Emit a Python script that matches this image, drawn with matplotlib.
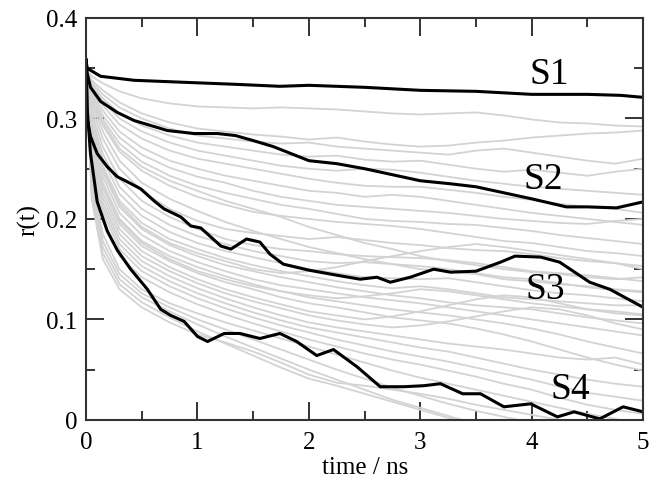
import numpy as np
import matplotlib
matplotlib.use('Agg')
import matplotlib.pyplot as plt
from matplotlib.ticker import MultipleLocator

plt.rcParams['font.family'] = ['Liberation Serif', 'DejaVu Serif']

# DATA : highlighted samples (black)
t_s1 = [0, 0.01, 0.13, 0.43, 0.88, 1.34, 1.74, 2.0, 2.5, 3.0, 3.5, 4.0, 4.5, 4.8, 5.0]
s1 = [0.358, 0.350, 0.342, 0.338, 0.336, 0.334, 0.332, 0.333, 0.331, 0.328, 0.327,
      0.324, 0.324, 0.323, 0.321]

t_s2 = [0, 0.01, 0.04, 0.13, 0.28, 0.43, 0.58, 0.73, 0.97, 1.18, 1.34, 1.5, 1.68, 2.0,
        2.25, 2.5, 3.0, 3.27, 3.5, 4.0, 4.31, 4.5, 4.76, 5.0]
s2 = [0.358, 0.345, 0.331, 0.317, 0.306, 0.298, 0.293, 0.288, 0.285, 0.285, 0.283,
      0.278, 0.272, 0.258, 0.255, 0.250, 0.238, 0.235, 0.232, 0.220, 0.212, 0.212,
      0.211, 0.217]

t_s3 = [0, 0.01, 0.04, 0.10, 0.19, 0.28, 0.37, 0.49, 0.61, 0.70, 0.85, 0.94, 1.03, 1.12,
        1.21, 1.30, 1.44, 1.56, 1.65, 1.77, 2.0, 2.25, 2.46, 2.61, 2.73, 2.91, 3.12,
        3.27, 3.5, 3.72, 3.85, 4.08, 4.25, 4.52, 4.7, 5.0]
s3 = [0.358, 0.300, 0.282, 0.265, 0.252, 0.242, 0.237, 0.230, 0.218, 0.210, 0.202,
      0.193, 0.191, 0.182, 0.173, 0.170, 0.180, 0.177, 0.165, 0.155, 0.149, 0.144,
      0.140, 0.142, 0.137, 0.142, 0.150, 0.147, 0.148, 0.157, 0.163, 0.162, 0.157,
      0.137, 0.130, 0.112]

t_s4 = [0, 0.01, 0.04, 0.1, 0.19, 0.28, 0.40, 0.55, 0.67, 0.76, 0.88, 1.0, 1.09, 1.24,
        1.38, 1.56, 1.74, 1.89, 2.07, 2.22, 2.43, 2.64, 2.85, 3.03, 3.18, 3.38, 3.54,
        3.75, 3.99, 4.23, 4.38, 4.61, 4.82, 5.0]
s4 = [0.358, 0.310, 0.265, 0.217, 0.188, 0.169, 0.150, 0.130, 0.110, 0.104, 0.098,
      0.083, 0.078, 0.086, 0.086, 0.081, 0.086, 0.078, 0.064, 0.070, 0.053, 0.033,
      0.033, 0.034, 0.036, 0.026, 0.026, 0.013, 0.016, 0.003, 0.008, 0.001, 0.013, 0.008]

# DATA : other samples (grey)
t_g = [0, 0.05, 0.15, 0.3, 0.5, 0.75, 1.0, 1.25, 1.5, 1.75, 2.0, 2.25, 2.5, 2.75, 3.0,
       3.25, 3.5, 3.75, 4.0, 4.25, 4.5, 4.75, 5.0]
grey = [
    [0.35, 0.342, 0.335, 0.327, 0.320, 0.315, 0.312, 0.311, 0.310, 0.311, 0.310, 0.309, 0.307, 0.305, 0.304, 0.305, 0.306, 0.303, 0.299, 0.296, 0.295, 0.293, 0.292],
    [0.35, 0.338, 0.328, 0.316, 0.305, 0.296, 0.290, 0.287, 0.284, 0.282, 0.279, 0.281, 0.277, 0.274, 0.272, 0.273, 0.276, 0.278, 0.281, 0.283, 0.285, 0.286, 0.288],
    [0.35, 0.336, 0.324, 0.311, 0.300, 0.290, 0.283, 0.280, 0.277, 0.275, 0.276, 0.272, 0.270, 0.268, 0.266, 0.264, 0.268, 0.270, 0.266, 0.262, 0.258, 0.255, 0.260],
    [0.35, 0.334, 0.320, 0.305, 0.293, 0.283, 0.276, 0.272, 0.268, 0.264, 0.262, 0.263, 0.259, 0.257, 0.258, 0.254, 0.250, 0.247, 0.249, 0.246, 0.243, 0.247, 0.250],
    [0.35, 0.332, 0.317, 0.300, 0.287, 0.276, 0.268, 0.263, 0.258, 0.253, 0.250, 0.248, 0.250, 0.249, 0.246, 0.242, 0.238, 0.235, 0.232, 0.230, 0.228, 0.226, 0.224],
    [0.35, 0.330, 0.313, 0.294, 0.280, 0.268, 0.260, 0.255, 0.250, 0.245, 0.240, 0.236, 0.233, 0.232, 0.232, 0.229, 0.226, 0.222, 0.219, 0.215, 0.212, 0.210, 0.206],
    [0.35, 0.327, 0.308, 0.287, 0.271, 0.258, 0.250, 0.243, 0.238, 0.233, 0.228, 0.226, 0.222, 0.224, 0.222, 0.218, 0.214, 0.210, 0.206, 0.203, 0.200, 0.197, 0.194],
    [0.35, 0.325, 0.303, 0.281, 0.264, 0.251, 0.242, 0.236, 0.228, 0.222, 0.218, 0.214, 0.212, 0.210, 0.208, 0.206, 0.203, 0.200, 0.198, 0.196, 0.195, 0.198, 0.200],
    [0.35, 0.322, 0.299, 0.275, 0.257, 0.243, 0.233, 0.226, 0.220, 0.214, 0.210, 0.205, 0.200, 0.198, 0.197, 0.195, 0.194, 0.191, 0.188, 0.184, 0.181, 0.178, 0.175],
    [0.35, 0.318, 0.293, 0.267, 0.248, 0.233, 0.222, 0.214, 0.207, 0.203, 0.200, 0.197, 0.195, 0.193, 0.190, 0.186, 0.182, 0.178, 0.176, 0.172, 0.168, 0.166, 0.163],
    [0.35, 0.320, 0.296, 0.270, 0.252, 0.238, 0.228, 0.218, 0.210, 0.202, 0.192, 0.184, 0.176, 0.170, 0.163, 0.158, 0.154, 0.150, 0.147, 0.145, 0.142, 0.140, 0.142],
    [0.35, 0.315, 0.287, 0.258, 0.236, 0.220, 0.208, 0.197, 0.188, 0.180, 0.172, 0.166, 0.160, 0.155, 0.150, 0.148, 0.145, 0.140, 0.138, 0.135, 0.133, 0.130, 0.128],
    [0.35, 0.310, 0.280, 0.250, 0.228, 0.210, 0.198, 0.190, 0.186, 0.183, 0.180, 0.182, 0.179, 0.176, 0.174, 0.171, 0.169, 0.168, 0.165, 0.161, 0.158, 0.156, 0.153],
    [0.35, 0.305, 0.272, 0.240, 0.218, 0.202, 0.190, 0.180, 0.174, 0.170, 0.168, 0.165, 0.163, 0.162, 0.161, 0.159, 0.156, 0.152, 0.148, 0.146, 0.144, 0.141, 0.138],
    [0.35, 0.300, 0.265, 0.232, 0.210, 0.194, 0.183, 0.175, 0.168, 0.163, 0.158, 0.156, 0.157, 0.155, 0.153, 0.150, 0.146, 0.142, 0.140, 0.136, 0.132, 0.129, 0.127],
    [0.35, 0.296, 0.259, 0.225, 0.203, 0.187, 0.176, 0.168, 0.162, 0.156, 0.150, 0.146, 0.142, 0.141, 0.140, 0.141, 0.137, 0.133, 0.129, 0.126, 0.124, 0.121, 0.118],
    [0.35, 0.292, 0.253, 0.218, 0.196, 0.180, 0.170, 0.161, 0.154, 0.148, 0.143, 0.138, 0.134, 0.131, 0.133, 0.130, 0.126, 0.122, 0.120, 0.118, 0.116, 0.114, 0.114],
    [0.35, 0.290, 0.250, 0.215, 0.192, 0.176, 0.166, 0.158, 0.150, 0.146, 0.148, 0.152, 0.158, 0.163, 0.168, 0.172, 0.175, 0.172, 0.168, 0.164, 0.160, 0.156, 0.150],
    [0.35, 0.288, 0.247, 0.212, 0.190, 0.174, 0.163, 0.154, 0.148, 0.142, 0.137, 0.132, 0.128, 0.124, 0.121, 0.117, 0.114, 0.112, 0.110, 0.106, 0.102, 0.099, 0.096],
    [0.35, 0.284, 0.242, 0.206, 0.184, 0.168, 0.157, 0.148, 0.140, 0.134, 0.130, 0.126, 0.122, 0.119, 0.116, 0.112, 0.108, 0.104, 0.100, 0.096, 0.092, 0.088, 0.084],
    [0.35, 0.280, 0.236, 0.200, 0.178, 0.163, 0.152, 0.143, 0.135, 0.128, 0.122, 0.118, 0.114, 0.110, 0.107, 0.104, 0.100, 0.096, 0.091, 0.085, 0.078, 0.072, 0.066],
    [0.35, 0.278, 0.234, 0.198, 0.176, 0.160, 0.148, 0.140, 0.133, 0.128, 0.124, 0.121, 0.123, 0.126, 0.130, 0.128, 0.124, 0.120, 0.116, 0.113, 0.110, 0.108, 0.105],
    [0.35, 0.276, 0.231, 0.195, 0.173, 0.158, 0.146, 0.137, 0.130, 0.122, 0.116, 0.112, 0.107, 0.102, 0.099, 0.096, 0.091, 0.085, 0.078, 0.070, 0.062, 0.055, 0.049],
    [0.35, 0.272, 0.226, 0.190, 0.168, 0.152, 0.140, 0.130, 0.122, 0.115, 0.108, 0.104, 0.100, 0.103, 0.108, 0.114, 0.120, 0.124, 0.122, 0.116, 0.110, 0.106, 0.104],
    [0.35, 0.268, 0.221, 0.185, 0.163, 0.148, 0.136, 0.126, 0.118, 0.111, 0.104, 0.099, 0.095, 0.092, 0.094, 0.098, 0.103, 0.108, 0.112, 0.110, 0.104, 0.096, 0.090],
    [0.35, 0.264, 0.216, 0.180, 0.158, 0.143, 0.131, 0.121, 0.112, 0.104, 0.097, 0.092, 0.088, 0.084, 0.080, 0.076, 0.073, 0.070, 0.066, 0.062, 0.060, 0.062, 0.055],
    [0.35, 0.260, 0.212, 0.175, 0.153, 0.138, 0.126, 0.116, 0.107, 0.099, 0.092, 0.087, 0.082, 0.077, 0.072, 0.068, 0.062, 0.056, 0.050, 0.045, 0.040, 0.036, 0.033],
    [0.35, 0.256, 0.207, 0.170, 0.148, 0.133, 0.121, 0.111, 0.102, 0.094, 0.087, 0.080, 0.074, 0.068, 0.063, 0.058, 0.052, 0.046, 0.040, 0.033, 0.027, 0.023, 0.019],
    [0.35, 0.250, 0.200, 0.163, 0.142, 0.127, 0.115, 0.105, 0.096, 0.088, 0.080, 0.073, 0.066, 0.060, 0.055, 0.049, 0.043, 0.036, 0.030, 0.022, 0.015, 0.010, 0.006],
    [0.35, 0.240, 0.185, 0.150, 0.130, 0.116, 0.106, 0.097, 0.089, 0.081, 0.073, 0.065, 0.057, 0.049, 0.042, 0.036, 0.030, 0.024, 0.018, 0.012, 0.006, 0.001, -0.005],
    [0.35, 0.235, 0.178, 0.145, 0.126, 0.112, 0.100, 0.090, 0.080, 0.070, 0.060, 0.050, 0.041, 0.032, 0.024, 0.016, 0.009, 0.003, -0.003, -0.01, -0.01, -0.01, -0.01],
    [0.35, 0.230, 0.172, 0.140, 0.122, 0.108, 0.095, 0.083, 0.072, 0.061, 0.050, 0.040, 0.030, 0.020, 0.012, 0.004, -0.004, -0.01, -0.01, -0.01, -0.01, -0.01, -0.01],
    [0.35, 0.225, 0.166, 0.135, 0.117, 0.102, 0.088, 0.076, 0.064, 0.052, 0.041, 0.034, 0.026, 0.018, 0.010, 0.002, -0.005, -0.01, -0.01, -0.01, -0.01, -0.01, -0.01],
    [0.35, 0.220, 0.160, 0.130, 0.112, 0.097, 0.085, 0.077, 0.068, 0.057, 0.045, 0.037, 0.034, 0.030, 0.026, 0.021, 0.015, 0.010, 0.005, 0.000, -0.005, -0.01, -0.01],
]

labels = ['S1', 'S2', 'S3', 'S4']
lab_x = [4.16, 4.10, 4.12, 4.35]
lab_y = [0.345, 0.240, 0.131, 0.031]

########## PLOT #############
fig = plt.figure(figsize=(6.57, 4.81), dpi=100)
ax = fig.add_axes([0.131, 0.125, 0.848, 0.8355])

for g in grey:
    ax.plot(t_g, g, color='#d3d3d3', lw=1.3)

for t, s in zip((t_s1, t_s2, t_s3, t_s4), (s1, s2, s3, s4)):
    ax.plot(t, s, color='black', lw=2.2)

for l, x, y in zip(labels, lab_x, lab_y):
    ax.text(x, y, l, fontsize=27, ha='center', va='center')

ax.set_xlim(0, 5)
ax.set_ylim(0, 0.4)
ax.xaxis.set_minor_locator(MultipleLocator(0.5))
ax.yaxis.set_minor_locator(MultipleLocator(0.05))
ax.set_xticks(range(6))
ax.set_xticklabels([str(i) for i in range(6)])
ax.set_yticks([0, 0.1, 0.2, 0.3, 0.4])
ax.set_yticklabels(['0', '0.1', '0.2', '0.3', '0.4'])

ax.tick_params(which='both', direction='in', top=True, right=True,
               labelsize=18, width=1.4, color='#333333')
ax.tick_params(axis='x', pad=8)
ax.tick_params(axis='y', pad=6)
ax.tick_params(which='major', length=13)
ax.tick_params(which='minor', length=6.5)
for sp in ax.spines.values():
    sp.set_linewidth(1.5)
    sp.set_color('#333333')

ax.set_xlabel('time / ns', fontsize=18, labelpad=2)
ax.set_ylabel('r(t)', fontsize=18, labelpad=4)

fig.savefig('out.png', dpi=100)
